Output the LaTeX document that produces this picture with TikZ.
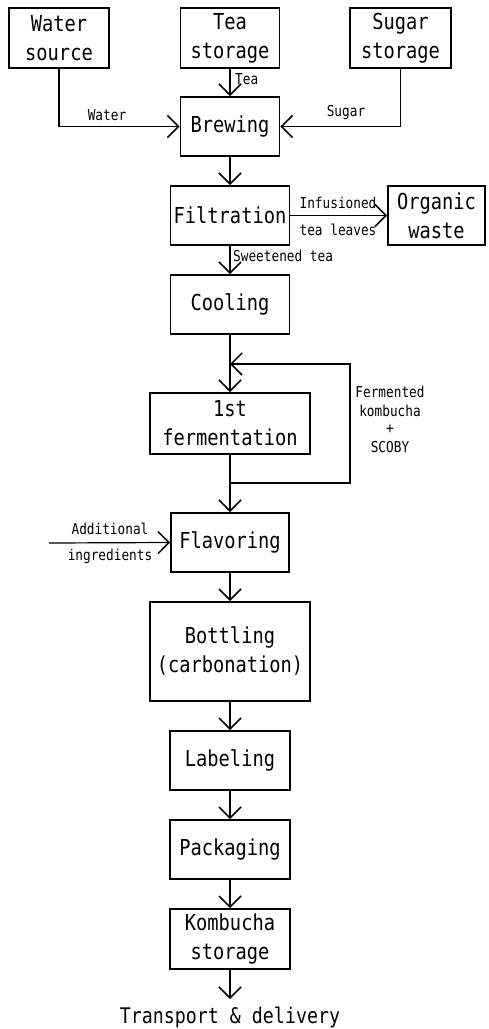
\documentclass[tikz,border=0pt]{standalone}
\usepackage{fontspec}
\newfontfamily\dfont[FakeStretch=0.85]{DejaVu Sans Mono}
\usetikzlibrary{arrows.meta}
\begin{document}
\begin{tikzpicture}[x=1pt,y=-1pt,
  box/.style={draw,line width=1.9pt,inner sep=0pt,align=center,
    font=\dfont\fontsize{22}{29}\selectfont},
  lbl/.style={inner sep=0pt,align=center,font=\dfont\fontsize{15}{18}\selectfont},
  flow/.style={line width=1.9pt,-{Straight Barb[length=11pt,width=22pt,line width=1.5pt]}},
  seg/.style={line width=1.9pt}]
\useasboundingbox (0,0) rectangle (489,1029);
\node[box,minimum width=100pt,minimum height=60pt] (water) at (59,38) {Water\\source};
\node[box,minimum width=99pt,minimum height=60pt] (tea) at (230,38) {Tea\\storage};
\node[box,minimum width=101pt,minimum height=60pt] (sugar) at (400.5,38) {Sugar\\storage};
\node[box,minimum width=99pt,minimum height=59pt] (brew) at (230,126.5) {Brewing};
\node[box,minimum width=119pt,minimum height=59pt] (filt) at (230,215.5) {Filtration};
\node[box,minimum width=97pt,minimum height=59pt] (org) at (436.5,215.5) {Organic\\waste};
\node[box,minimum width=119pt,minimum height=59pt] (cool) at (230,304.5) {Cooling};
\node[box,minimum width=160pt,minimum height=61pt] (ferm) at (230,423.5) {1st\\fermentation};
\node[box,minimum width=118pt,minimum height=59pt] (flav) at (230,542.5) {Flavoring};
\node[box,minimum width=160pt,minimum height=99pt] (bott) at (230,651.5) {Bottling\\(carbonation)};
\node[box,minimum width=120pt,minimum height=59pt] (lab) at (230,760.5) {Labeling};
\node[box,minimum width=120pt,minimum height=59pt] (pack) at (230,849.5) {Packaging};
\node[box,minimum width=120pt,minimum height=60pt] (stor) at (230,939) {Kombucha\\storage};
\node[inner sep=0pt,font=\dfont\fontsize{21.5}{26}\selectfont] (trans) at (230,1017) {Transport \& delivery};
\coordinate (transtop) at (230,999);
\coordinate (loopbot) at (230,483);
\coordinate (looptop) at (230,364);
\coordinate (addin) at (49,543);

\draw[flow] (water.south) |- (brew.west);
\draw[flow] (tea) -- (brew);
\draw[flow] (sugar.south) |- (brew.east);
\draw[flow] (brew) -- (filt);
\draw[flow] (filt) -- (org);
\draw[flow] (filt) -- (cool);
\draw[flow] (cool) -- (ferm);
\draw[seg] (ferm.south) -- (loopbot);
\draw[flow] (loopbot) -- ++(120,0) |- (looptop);
\draw[flow] (loopbot) -- (flav);
\draw[flow,line width=1.2pt] (addin) -- (flav.west);
\draw[flow] (flav) -- (bott);
\draw[flow] (bott) -- (lab);
\draw[flow] (lab) -- (pack);
\draw[flow] (pack) -- (stor);
\draw[flow] (stor) -- (transtop);

\node[lbl] (lwater) at (107,115) {Water};
\node[lbl,anchor=west] (ltea) at (235,79) {Tea};
\node[lbl] (lsugar) at (346,113) {Sugar};
\node[lbl] (linf) at (338,203) {Infusioned};
\node[lbl] (ltl) at (338,230) {tea leaves};
\node[lbl,anchor=west] (lsw) at (233,256) {Sweetened tea};
\node[lbl] (lf1) at (390,392) {Fermented};
\node[lbl] (lf2) at (390,411) {kombucha};
\node[lbl] (lf3) at (390,429) {+};
\node[lbl] (lf4) at (390,447) {SCOBY};
\node[lbl] (la1) at (110,529) {Additional};
\node[lbl] (la2) at (110,556) {ingredients};
\end{tikzpicture}
\end{document}
